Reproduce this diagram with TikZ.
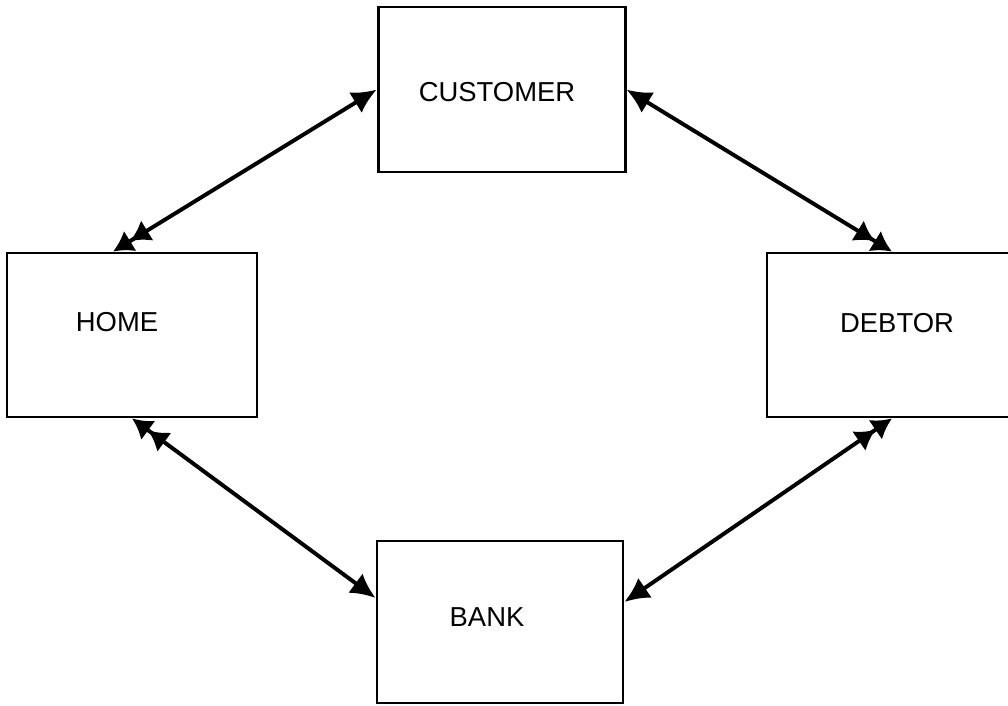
\documentclass[tikz,border=0pt]{standalone}
\usepackage{fontspec}
\setmainfont{Liberation Sans}
\usetikzlibrary{arrows.meta}

\begin{document}
\begin{tikzpicture}[
    box/.style={draw, line width=2pt, minimum width=6.2cm, minimum height=4.1cm, inner sep=0pt},
    boxlabel/.style={font=\fontsize{19.5}{22}\selectfont, inner sep=0pt},
    link/.style={line width=2.8pt, {Latex[length=0.62cm,width=0.6cm]}-{Latex[length=0.5cm,width=0.6cm] Latex[length=0.5cm,width=0.6cm]}}
]
\useasboundingbox (0,0) rectangle (25.2,17.65);

% --- boxes ---
\node[box, minimum width=6.175cm, minimum height=4.125cm] (cust) at (12.54, 15.41) {};
\node[box, minimum width=6.25cm] (home) at (3.3, 9.275) {};
\node[box, minimum width=6.25cm] (debt) at (22.3, 9.275) {};
\node[box, minimum width=6.15cm, minimum height=4.05cm] (bank) at (12.5, 2.1) {};

% --- labels ---
\node[boxlabel] (custl) at (12.425, 15.35) {CUSTOMER};
\node[boxlabel] (homel) at (2.925, 9.6) {HOME};
\node[boxlabel] (debtl) at (22.425, 9.575) {DEBTOR};
\node[boxlabel] (bankl) at (12.175, 2.225) {BANK};

% --- links ---
\draw[link] (cust.west) -- ([xshift=-0.475cm]home.north);
\draw[link] (cust.east) -- (debt.north);
\draw[link] ([yshift=0.6cm]bank.west) -- (home.south);
\draw[link] ([yshift=0.5cm]bank.east) -- (debt.south);

\end{tikzpicture}
\end{document}
